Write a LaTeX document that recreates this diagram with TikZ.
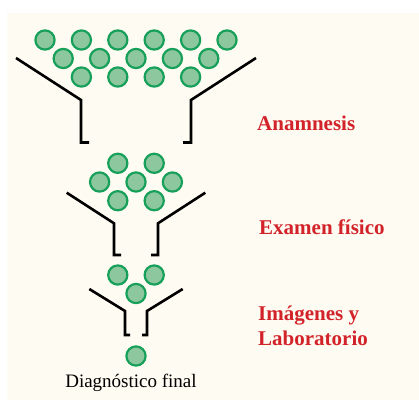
\documentclass[tikz,border=0pt]{standalone}
\usepackage{fontspec}
\setmainfont{Liberation Serif}
\definecolor{paper}{HTML}{FEFBF2}
\definecolor{ballfill}{HTML}{8DC79E}
\definecolor{balledge}{HTML}{16A05A}
\definecolor{labred}{HTML}{D2232A}
\begin{document}
\begin{tikzpicture}[x=1pt,y=-1pt,line join=miter,
	ball/.style={fill=ballfill,draw=balledge,line width=2.2pt},
	funnel/.style={draw=black,line width=2.6pt},
	steplabel/.style={text=labred,font=\fontsize{21}{25}\selectfont\bfseries,inner sep=0pt,anchor=base west,align=left}]
	\useasboundingbox (0,0) rectangle (419,400);
	\fill[paper] (7,13) rectangle (419,400);
	% balls
	\foreach \i in {0,...,5}
	\draw[ball] ({45+36.4*\i},40) circle(9.6);
	\foreach \i in {0,...,4}
	\draw[ball] ({63.2+36.4*\i},58.5) circle(9.6);
	\foreach \i in {0,...,3}
	\draw[ball] ({81.4+36.4*\i},77) circle(9.6);
	\foreach \i in {0,1}
	\draw[ball] ({117.8+36.4*\i},163.3) circle(9.6) ({117.8+36.4*\i},200.7) circle(9.6);
	\foreach \i in {0,...,2}
	\draw[ball] ({99.6+36.4*\i},182) circle(9.6);
	\foreach \i in {0,1}
	\draw[ball] ({117.8+36.4*\i},275) circle(9.6);
	\draw[ball] (136,293.5) circle(9.6);
	\draw[ball] (136,356) circle(9.6);
	% funnels
	\foreach \w/\t/\n/\m/\b/\f in {120/58/55/100/142.5/8, 69.3/192.7/22/223.3/255/7, 46.7/289/11/311/335/5}
	\foreach \s in {-1,1}
	\draw[funnel] ({136+\s*\w},\t) -- ({136+\s*\n},\m) -- ({136+\s*\n},\b) -- ({136+\s*(\n-\f)},\b);
	% labels
	\node[steplabel] (anam) at (257,130) {Anamnesis};
	\node[steplabel] (exam) at (259,234) {Examen físico};
	\node[steplabel] (imlab) at (258,345) {Imágenes y\\Laboratorio};
	\node[font=\fontsize{19}{23}\selectfont,inner sep=0pt,anchor=base] (diag) at (131,387.3) {Diagnóstico final};
\end{tikzpicture}
\end{document}
